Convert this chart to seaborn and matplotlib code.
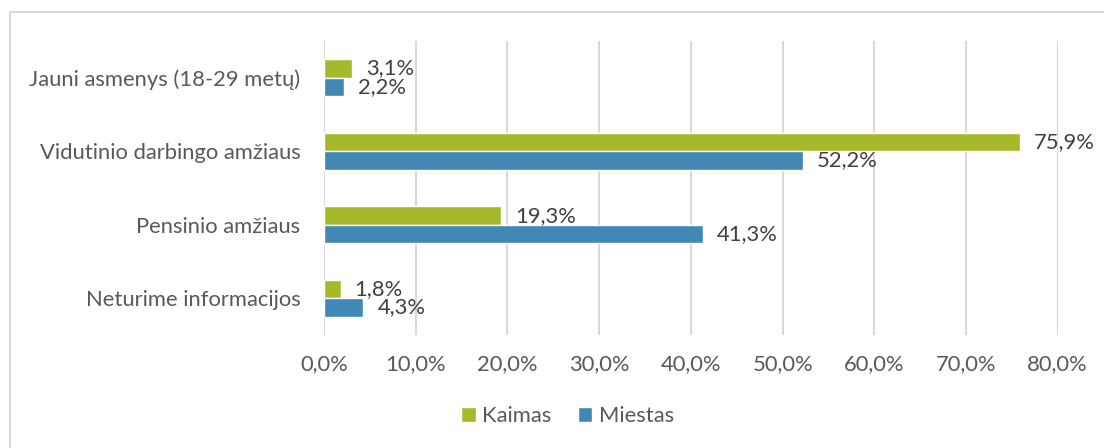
import matplotlib
matplotlib.use("Agg")
import matplotlib.pyplot as plt
import seaborn as sns
import pandas as pd
from matplotlib.patches import Rectangle

categories = ["Jauni asmenys (18-29 metų)", "Vidutinio darbingo amžiaus",
              "Pensinio amžiaus", "Neturime informacijos"]
kaimas = [3.1, 75.9, 19.3, 1.8]
miestas = [2.2, 52.2, 41.3, 4.3]
series = ["Kaimas", "Miestas"]
x_ticks = [0, 10, 20, 30, 40, 50, 60, 70, 80]

df = pd.DataFrame({
    "kategorija": categories * 2,
    "grupe": [series[0]] * len(categories) + [series[1]] * len(categories),
    "reiksme": kaimas + miestas,
})

sns.set_theme(style="white")
plt.rcParams["font.family"] = ["Lato", "DejaVu Sans"]
FS = 15.8

fig = plt.figure(figsize=(11.04, 4.48), dpi=100)
ax = fig.add_axes([0.2935, 0.252, 0.6645, 0.6565])

colors = {"Kaimas": "#A8B82B", "Miestas": "#4189B4"}
sns.barplot(data=df, y="kategorija", x="reiksme", hue="grupe", order=categories,
            hue_order=series, palette=colors, width=0.5, orient="h",
            saturation=1.0, ax=ax, legend=True)

for cont in ax.containers:
    labels = [("%.1f%%" % v).replace(".", ",") for v in cont.datavalues]
    ax.bar_label(cont, labels=labels, padding=10, fontsize=FS, color="#404040")

ax.set_xlim(0, 80)
ax.set_xticks(x_ticks)
ax.set_xticklabels([("%.1f%%" % t).replace(".", ",") for t in x_ticks])
ax.set_xlabel("")
ax.set_ylabel("")
ax.tick_params(axis="both", length=0, labelsize=FS, labelcolor="#595959")
ax.tick_params(axis="x", pad=14)
ax.tick_params(axis="y", pad=17)
ax.xaxis.grid(True, color="#D9D9D9", linewidth=1.5)
ax.set_axisbelow(True)
for s in ax.spines.values():
    s.set_visible(False)

handles, labs = ax.get_legend_handles_labels()
ax.get_legend().remove()
fig.legend(handles, labs, loc="center", bbox_to_anchor=(0.514, 0.071), ncol=2,
           frameon=False, fontsize=FS, handlelength=0.65, handleheight=0.65,
           handletextpad=0.3, columnspacing=1.2, labelcolor="#595959")

fig.patches.append(Rectangle((10 / 1104, -0.01), 1.2, 0.983, transform=fig.transFigure,
                             fill=False, edgecolor="#D9D9D9", linewidth=1.5))

fig.savefig("out.png", dpi=100)
